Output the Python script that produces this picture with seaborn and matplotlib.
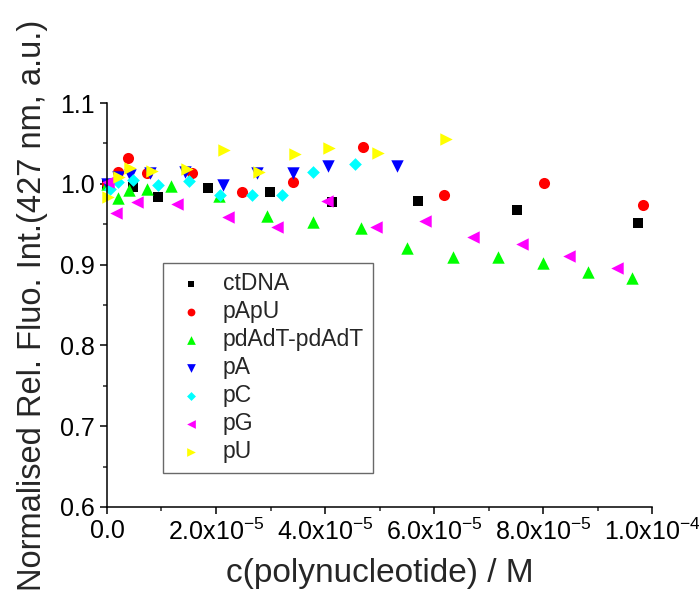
import numpy as np
import pandas as pd
import seaborn as sns
from matplotlib import pyplot as plt
from matplotlib.ticker import MultipleLocator, FuncFormatter

# values (x in 1e-5 M, y normalised intensity)
ct_x = [0.0, 0.48, 0.94, 1.85, 2.99, 4.13, 5.71, 7.52, 9.74]
ct_y = [1.000, 0.996, 0.984, 0.995, 0.990, 0.977, 0.979, 0.968, 0.951]

apu_x = [0.0, 0.20, 0.39, 0.73, 1.56, 2.48, 3.41, 4.70, 6.18, 8.02, 9.83]
apu_y = [1.000, 1.015, 1.032, 1.013, 1.013, 0.990, 1.002, 1.046, 0.986, 1.001, 0.974]

adt_x = [0.0, 0.20, 0.40, 0.73, 1.17, 2.06, 2.94, 3.78, 4.66, 5.50, 6.35, 7.17, 8.00, 8.83, 9.63]
adt_y = [1.000, 0.982, 0.992, 0.994, 0.997, 0.985, 0.960, 0.953, 0.945, 0.921, 0.909, 0.909, 0.902, 0.891, 0.883]

pa_x = [0.0, 0.20, 0.42, 0.79, 1.43, 2.13, 2.75, 3.41, 4.06, 5.32]
pa_y = [1.000, 1.009, 1.011, 1.013, 1.015, 0.998, 1.013, 1.013, 1.022, 1.022]

pc_x = [0.05, 0.20, 0.48, 0.94, 1.50, 2.07, 2.66, 3.21, 3.78, 4.55]
pc_y = [0.993, 1.002, 1.005, 0.998, 1.003, 0.986, 0.986, 0.986, 1.015, 1.025]

pg_x = [0.02, 0.17, 0.55, 1.28, 2.22, 3.12, 4.04, 4.94, 5.83, 6.72, 7.61, 8.48, 9.36]
pg_y = [1.002, 0.964, 0.977, 0.975, 0.959, 0.947, 0.979, 0.947, 0.954, 0.934, 0.925, 0.911, 0.896]

pu_x = [0.02, 0.22, 0.42, 0.83, 1.47, 2.15, 2.79, 3.45, 4.07, 4.97, 6.22]
pu_y = [0.984, 1.008, 1.020, 1.016, 1.018, 1.042, 1.015, 1.037, 1.044, 1.038, 1.055]

names = ['ctDNA', 'pApU', 'pdAdT-pdAdT', 'pA', 'pC', 'pG', 'pU']
xs = [ct_x, apu_x, adt_x, pa_x, pc_x, pg_x, pu_x]
ys = [ct_y, apu_y, adt_y, pa_y, pc_y, pg_y, pu_y]
colors = ['#000000', '#FF0000', '#00FF00', '#0000FF', '#00FFFF', '#FF00FF', '#FFFF00']
markers = ['s', 'o', '^', 'v', 'D', '<', '>']
sizes = [46, 64, 80, 80, 42, 80, 80]

sns.set_style('ticks')
plt.rcParams['font.family'] = ['Liberation Sans', 'DejaVu Sans']
plt.rcParams['mathtext.default'] = 'regular'

fig = plt.figure(figsize=(6.99, 5.92), dpi=100)
ax = fig.add_axes([0.153, 0.1436, 0.78, 0.6824])

for n, x, y, c, m, s in zip(names, xs, ys, colors, markers, sizes):
    df = pd.DataFrame({'x': np.array(x) * 1e-5, 'y': y})
    sns.scatterplot(data=df, x='x', y='y', marker=m, color=c, s=s,
                    linewidth=0, label=n, ax=ax, clip_on=False)

ax.set_xlim(0, 1.0e-4)
ax.set_ylim(0.6, 1.1)
ax.xaxis.set_major_locator(MultipleLocator(2e-5))
ax.xaxis.set_minor_locator(MultipleLocator(1e-5))
ax.yaxis.set_major_locator(MultipleLocator(0.1))
ax.yaxis.set_minor_locator(MultipleLocator(0.05))


def xfmt(v, pos):
    if abs(v) < 1e-12:
        return '0.0'
    e = int(np.floor(np.log10(abs(v)) + 1e-9))
    return '%.1fx10$^{%d}$' % (v / 10 ** e, e)


ax.xaxis.set_major_formatter(FuncFormatter(xfmt))
ax.yaxis.set_major_formatter(FuncFormatter(lambda v, p: '%.1f' % v))

for side in ['top', 'right']:
    ax.spines[side].set_visible(False)
for side in ['left', 'bottom']:
    ax.spines[side].set_linewidth(1.1)
    ax.spines[side].set_color('black')
ax.tick_params(which='major', direction='out', length=5, width=1.1, labelsize=18, colors='black')
ax.tick_params(which='minor', direction='out', length=3, width=1.1)

ax.set_xlabel('c(polynucleotide) / M', fontsize=24, labelpad=9)
ax.set_ylabel('Normalised Rel. Fluo. Int.(427 nm, a.u.)', fontsize=23.5, labelpad=9)

leg = ax.legend(loc='upper left', bbox_to_anchor=(0.103, 0.604), borderaxespad=0,
                fontsize=16.5, frameon=True, fancybox=False, markerscale=0.7,
                labelspacing=0.22, handletextpad=0.6, borderpad=0.4, handlelength=1.6)
leg.get_frame().set_edgecolor('#444444')
leg.get_frame().set_linewidth(1.0)

fig.savefig('out.png', dpi=100)
